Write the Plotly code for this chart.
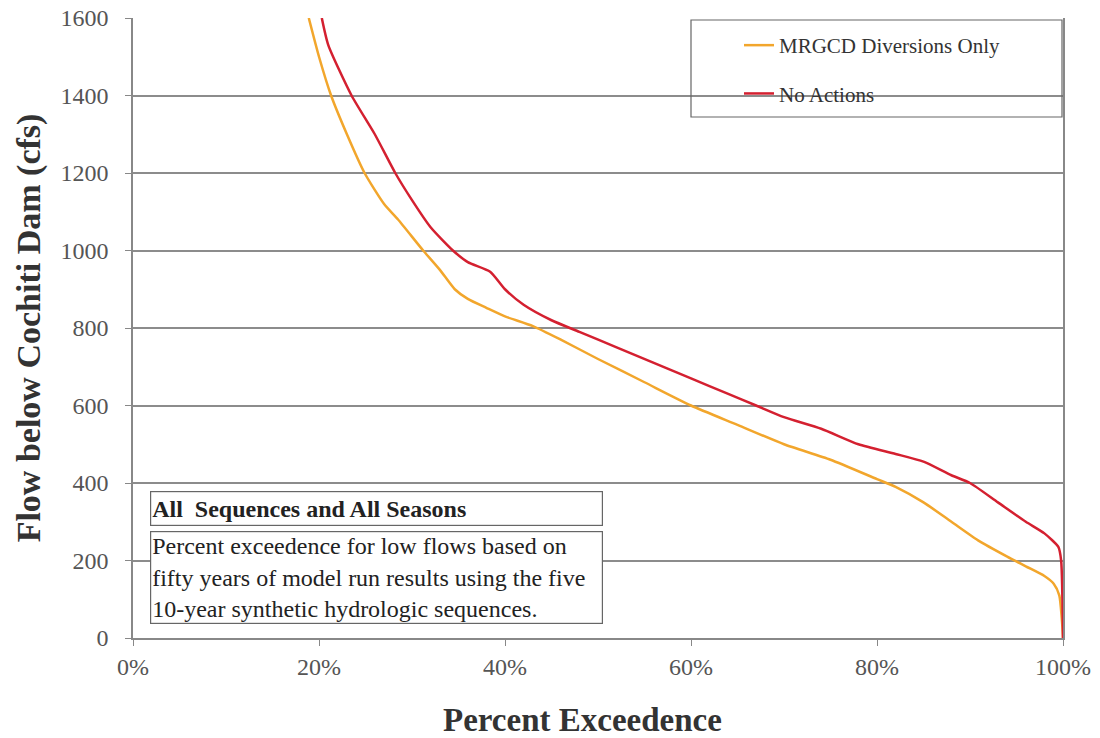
import plotly.graph_objects as go

# MRGCD Diversions Only (orange)
mrgcd_x = [18.9, 20, 21.3, 23, 24.9, 27, 28.5, 31.2, 33, 34.6, 36, 38, 40, 43, 46, 50, 55, 60, 65, 70, 75, 80, 82, 85, 88, 91, 94, 96, 98, 99, 99.6, 99.9, 100]
mrgcd_y = [1600, 1500, 1400, 1300, 1200, 1120, 1080, 1000, 950, 900, 875, 852, 830, 805, 770, 720, 660, 600, 550, 500, 460, 410, 390, 350, 300, 250, 210, 185, 160, 140, 110, 40, 0]

# No Actions (red)
noact_x = [20.3, 21, 23.5, 26, 28.2, 30, 32, 34.4, 36, 38.4, 40, 42, 45, 48, 52, 56, 60, 64, 67, 70, 74, 78, 82, 85, 88, 90, 93, 96, 98, 99.5, 99.8, 100]
noact_y = [1600, 1530, 1400, 1300, 1200, 1130, 1060, 1000, 970, 945, 900, 860, 820, 790, 750, 710, 670, 630, 600, 570, 540, 500, 475, 455, 420, 400, 350, 300, 270, 235, 200, 0]

x_ticks = [0, 20, 40, 60, 80, 100]
x_tick_labels = ["0%", "20%", "40%", "60%", "80%", "100%"]
y_ticks = [0, 200, 400, 600, 800, 1000, 1200, 1400, 1600]

serif = "Liberation Serif, Times New Roman, serif"

L, T, R, B = 133, 18, 1063, 638
W, H = R - L, B - T

fig = go.Figure()
fig.add_trace(go.Scatter(x=mrgcd_x, y=mrgcd_y, mode="lines", name="MRGCD Diversions Only",
                         line=dict(color="#F2A62C", width=2.5, shape="spline", smoothing=0.6),
                         legendgroup="a"))
fig.add_trace(go.Scatter(x=noact_x, y=noact_y, mode="lines", name="No Actions",
                         line=dict(color="#D42030", width=2.5, shape="spline", smoothing=0.6),
                         legendgroup="b"))

fig.update_layout(
    width=1100, height=738,
    margin=dict(l=L, r=1100 - R, t=T, b=738 - B, autoexpand=False),
    paper_bgcolor="white", plot_bgcolor="white",
    font=dict(family=serif, color="#333"),
    showlegend=True,
    legend=dict(x=(739 - L) / W, y=(B - 25) / H, xanchor="left", yanchor="top",
                font=dict(family=serif, size=21, color="#333"),
                bgcolor="rgba(0,0,0,0)", borderwidth=0,
                traceorder="grouped", tracegroupgap=18),
    xaxis=dict(range=[0, 100], tickvals=x_ticks, ticktext=x_tick_labels,
               showgrid=False, zeroline=False, automargin=False,
               showline=True, linecolor="#888", linewidth=1.5,
               ticks="outside", ticklen=6, tickcolor="#888",
               tickfont=dict(family=serif, size=24, color="#555")),
    yaxis=dict(range=[0, 1600], tickvals=y_ticks,
               showgrid=True, gridcolor="#8c8c8c", gridwidth=1.5, zeroline=False, automargin=False,
               showline=True, linecolor="#888", linewidth=1.5, mirror=True,
               ticks="outside", ticklen=6, tickcolor="#888", ticklabelstandoff=12,
               tickfont=dict(family=serif, size=24, color="#555"),
               title=dict(text="<b>Flow below Cochiti Dam (cfs)</b>", font=dict(family=serif, size=34, color="#333"),
                          standoff=10)),
)

# x-axis title placed as in the reference
fig.add_annotation(xref="paper", yref="paper", x=(582 - L) / W, y=(B - 720) / H,
                   xanchor="center", yanchor="middle", showarrow=False,
                   text="<b>Percent Exceedence</b>", font=dict(family=serif, size=33, color="#333"))

# legend box
fig.add_shape(type="rect", xref="paper", yref="paper",
              x0=(691 - L) / W, x1=(1062 - L) / W,
              y0=(B - 117) / H, y1=(B - 20) / H,
              line=dict(color="#666", width=1.2), fillcolor="rgba(0,0,0,0)")

# annotation boxes
fig.add_annotation(xref="paper", yref="paper",
                   x=(150 - L) / W, y=(B - 491) / H, xanchor="left", yanchor="top",
                   text="<b>All  Sequences and All Seasons</b>", showarrow=False, align="left",
                   width=449, height=31, borderpad=1, bordercolor="#666", borderwidth=1.2,
                   bgcolor="white", font=dict(family=serif, size=24, color="#222"))
fig.add_annotation(xref="paper", yref="paper",
                   x=(150 - L) / W, y=(B - 531) / H, xanchor="left", yanchor="top",
                   text="Percent exceedence for low flows based on<br>fifty years of model run results using the five<br>10-year synthetic hydrologic sequences.",
                   showarrow=False, align="left",
                   width=449, height=89, borderpad=1, bordercolor="#666", borderwidth=1.2,
                   bgcolor="white", font=dict(family=serif, size=24, color="#222"))

fig.write_html("out.html")
